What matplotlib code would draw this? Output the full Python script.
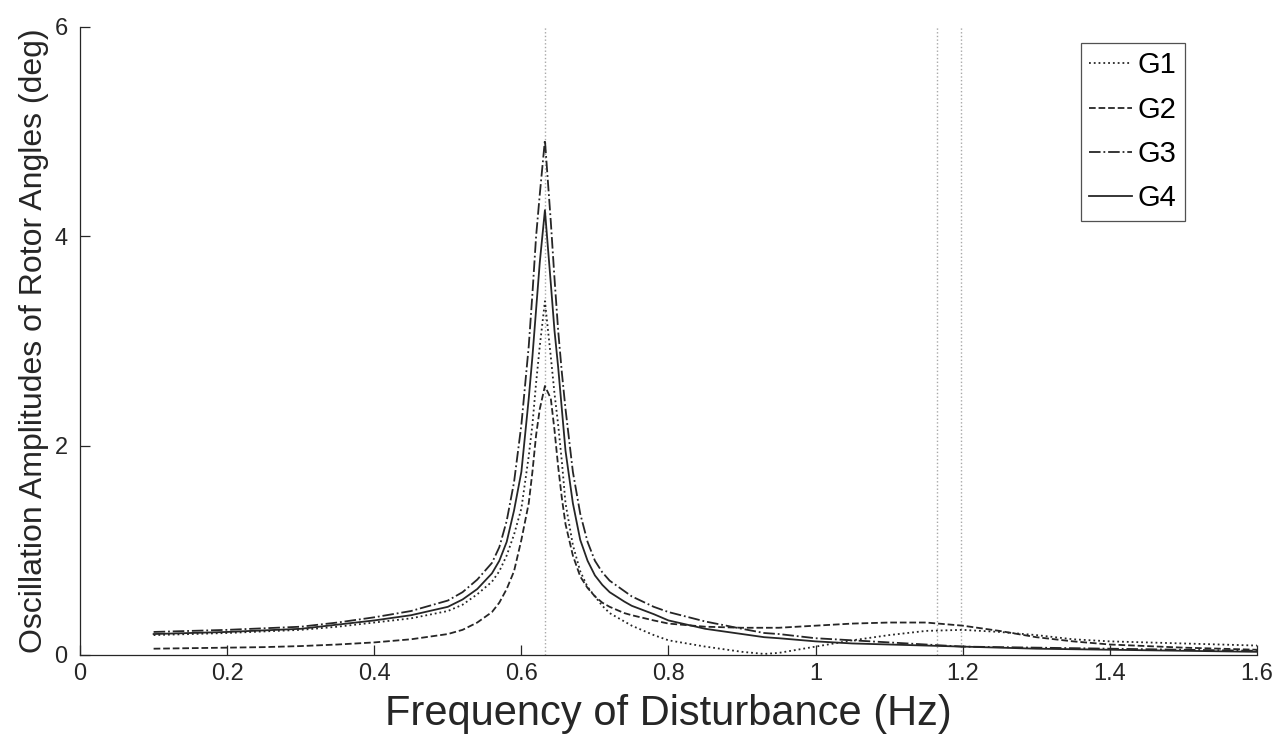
import numpy as np
import matplotlib
matplotlib.use('Agg')
import matplotlib.pyplot as plt

plt.rcParams['font.family'] = ['Liberation Sans', 'DejaVu Sans']

freq = [0.10, 0.15, 0.20, 0.25, 0.30, 0.35, 0.40, 0.45, 0.50, 0.52, 0.54, 0.56,
        0.57, 0.58, 0.59, 0.60, 0.61, 0.615, 0.62, 0.625, 0.632, 0.64, 0.645,
        0.65, 0.655, 0.66, 0.67, 0.68, 0.69, 0.70, 0.71, 0.72, 0.74, 0.75, 0.78,
        0.80, 0.85, 0.90, 0.93, 0.95, 1.00, 1.05, 1.10, 1.15, 1.20, 1.25, 1.30,
        1.35, 1.40, 1.50, 1.60]

g1 = [0.19, 0.20, 0.21, 0.225, 0.24, 0.27, 0.31, 0.35, 0.42, 0.48, 0.58, 0.70,
      0.80, 0.95, 1.15, 1.40, 1.90, 2.20, 2.60, 2.95, 3.38, 2.85, 2.50,
      2.20, 1.85, 1.45, 1.05, 0.80, 0.65, 0.56, 0.47, 0.40, 0.32, 0.28, 0.19,
      0.14, 0.08, 0.03, 0.01, 0.02, 0.08, 0.14, 0.19, 0.23, 0.24, 0.22, 0.19,
      0.15, 0.13, 0.11, 0.09]

g2 = [0.06, 0.065, 0.07, 0.075, 0.085, 0.10, 0.12, 0.15, 0.20, 0.24, 0.31, 0.41,
      0.50, 0.63, 0.80, 1.10, 1.45, 1.75, 2.10, 2.35, 2.57, 2.45, 2.15,
      1.80, 1.50, 1.25, 0.95, 0.75, 0.64, 0.56, 0.50, 0.46, 0.40, 0.38, 0.33,
      0.30, 0.27, 0.26, 0.26, 0.26, 0.28, 0.30, 0.31, 0.31, 0.28, 0.23, 0.17,
      0.13, 0.10, 0.07, 0.05]

g3 = [0.22, 0.23, 0.24, 0.255, 0.27, 0.31, 0.36, 0.42, 0.52, 0.60, 0.72, 0.88,
      1.03, 1.28, 1.65, 2.20, 2.95, 3.45, 4.00, 4.40, 4.92, 4.14, 3.60,
      3.10, 2.70, 2.35, 1.75, 1.35, 1.08, 0.90, 0.79, 0.71, 0.61, 0.56, 0.46,
      0.41, 0.32, 0.25, 0.21, 0.20, 0.16, 0.14, 0.12, 0.10, 0.08, 0.075, 0.07,
      0.065, 0.06, 0.05, 0.04]

g4 = [0.20, 0.21, 0.22, 0.235, 0.25, 0.29, 0.33, 0.38, 0.46, 0.53, 0.63, 0.78,
      0.90, 1.08, 1.38, 1.75, 2.45, 2.85, 3.30, 3.75, 4.25, 3.55, 3.10,
      2.75, 2.35, 1.95, 1.45, 1.10, 0.90, 0.76, 0.67, 0.60, 0.51, 0.47, 0.39,
      0.33, 0.25, 0.20, 0.17, 0.16, 0.13, 0.11, 0.10, 0.09, 0.08, 0.07, 0.06,
      0.055, 0.05, 0.04, 0.03]

# Eigenfrequenzen (Hz), als gepunktete Hilfslinien
modes = [0.632, 1.165, 1.198]

labels = ['G1', 'G2', 'G3', 'G4']
styles = [':', '--', '-.', '-']
series = [g1, g2, g3, g4]

xticks = [0, 0.2, 0.4, 0.6, 0.8, 1.0, 1.2, 1.4, 1.6]
xticklabels = ['0', '0.2', '0.4', '0.6', '0.8', '1', '1.2', '1.4', '1.6']
yticks = [0, 2, 4, 6]

fig = plt.figure(figsize=(12.81, 7.5), dpi=100)
ax = fig.add_axes([0.0625, 0.1267, 0.9187, 0.8373])

for m in modes:
    ax.axvline(m, color='#a8a8a8', linestyle=':', linewidth=1.0, zorder=1)

for vals, ls, lab in zip(series, styles, labels):
    ax.plot(freq, vals, linestyle=ls, color='#262626', linewidth=1.3, label=lab, zorder=3)

ax.set_xlim(0, 1.6)
ax.set_ylim(0, 6)
ax.set_xticks(xticks)
ax.set_xticklabels(xticklabels)
ax.set_yticks(yticks)

for side in ['top', 'right']:
    ax.spines[side].set_visible(False)
for side in ['left', 'bottom']:
    ax.spines[side].set_color('#262626')
    ax.spines[side].set_linewidth(0.9)

ax.tick_params(direction='in', length=7, width=0.9, colors='#262626', labelsize=17)
ax.tick_params(axis='x', pad=6)
ax.tick_params(axis='y', pad=9)

ax.set_xlabel('Frequency of Disturbance (Hz)', fontsize=30, color='#262626', labelpad=6)
ax.set_ylabel('Oscillation Amplitudes of Rotor Angles (deg)', fontsize=23,
              color='#262626', labelpad=4)

leg = ax.legend(loc='upper right', bbox_to_anchor=(0.939, 0.975), fontsize=21,
                frameon=True, fancybox=False, handlelength=1.45, handletextpad=0.2,
                borderpad=0.3, labelspacing=0.56, borderaxespad=0)
leg.get_frame().set_edgecolor('#262626')
leg.get_frame().set_linewidth(0.9)

fig.savefig('out.png', dpi=100)
